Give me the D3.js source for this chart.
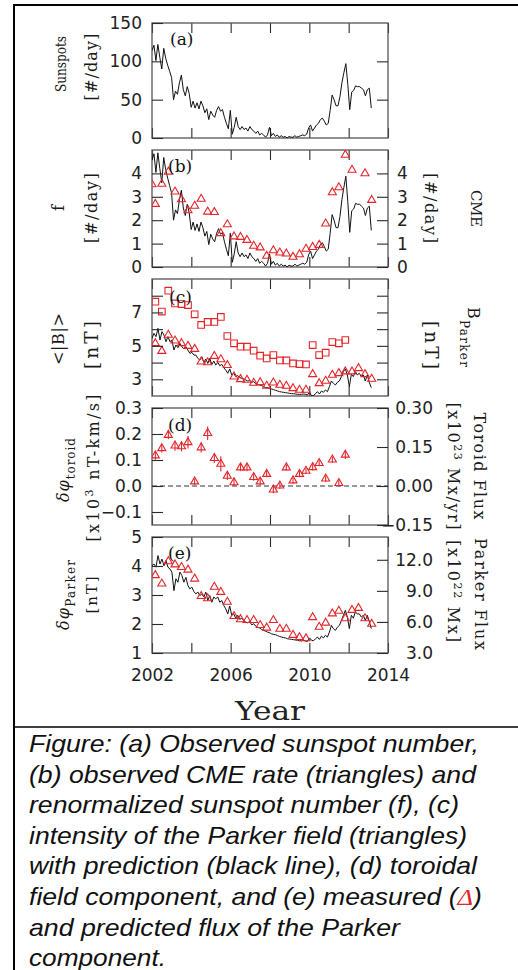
<!DOCTYPE html>
<html>
<head>
<meta charset="utf-8">
<script src="https://cdn.jsdelivr.net/npm/d3@7"></script>
<style>
  body { margin: 0; background: #fff; }
  svg { display: block; }
</style>
</head>
<body>
<div id="chart"></div>
<script>
// ---- data ----

// monthly-ish sunspot number, 2002.0 .. ~2013.15
const sunspots = [
  114,121,101,122,105,90,117,104,95,87,
  79,50,61,57,72,82,63,55,67,58,
  40,48,39,46,38,48,42,33,38,24,
  35,30,27,36,41,35,37,27,19,12,
  36,5,14,27,15,11,15,11,13,9,
  15,11,9,6,9,4,6,4,1,4,
  14,3,6,2,4,1,3,1,2,0,
  2,1,1,3,1,2,3,4,3,5,
  13,17,9,13,17,19,24,26,22,17,
  19,36,56,50,42,42,54,72,85,97,
  70,37,60,62,68,67,67,65,63,55,
  63,65,39
];

// predicted Parker field intensity (black line, panel c)
const bPredicted = [
  5.45,5.75,5.55,6.05,5.35,5.85,5.65,5.25,5.55,5.25,
  5.35,4.75,5.05,4.89,5.15,4.95,4.81,4.95,4.75,4.55,
  4.61,4.45,4.45,4.25,4.15,4.35,4.01,4.21,3.95,4.25,
  3.89,4.09,3.85,4.01,3.81,3.89,3.69,3.55,3.36,3.62,
  3.26,3.36,3.16,3.22,3.10,3.06,3.02,2.96,2.90,2.92,
  2.82,2.86,2.74,2.70,2.66,2.62,2.56,2.50,2.50,2.46,
  2.42,2.38,2.34,2.30,2.26,2.24,2.22,2.20,2.18,2.16,
  2.14,2.14,2.12,2.10,2.10,2.10,2.12,2.10,2.06,2.22,
  2.02,2.02,2.14,2.26,2.12,2.30,2.22,2.36,2.26,2.56,
  2.90,2.76,2.66,2.82,2.90,3.16,3.46,3.62,3.26,2.56,
  3.30,3.16,3.46,3.26,3.36,3.16,3.26,2.90,3.26,2.82,2.50
];

// predicted Parker flux (black line, panel e)
const fluxPredicted = [
  4.01,4.07,3.96,4.36,4.07,4.24,4.01,4.19,3.96,3.90,
  3.79,3.15,3.56,3.44,3.79,3.67,3.44,3.61,3.33,3.21,
  3.27,3.12,3.04,3.10,2.98,3.04,2.93,3.10,2.81,2.98,
  2.75,2.93,2.87,2.93,2.75,2.81,2.64,2.52,2.35,2.62,
  2.30,2.35,2.20,2.30,2.16,2.20,2.12,2.07,2.04,2.09,
  1.97,2.01,1.93,1.89,1.86,1.81,1.78,1.75,1.72,1.70,
  1.66,1.64,1.63,1.60,1.57,1.55,1.53,1.52,1.49,1.48,
  1.47,1.46,1.45,1.44,1.42,1.42,1.44,1.41,1.40,1.52,
  1.44,1.42,1.49,1.55,1.47,1.58,1.52,1.61,1.55,1.72,
  1.95,1.84,1.78,1.89,1.95,2.12,2.30,2.47,2.24,1.84,
  2.30,2.20,2.41,2.35,2.35,2.24,2.30,2.12,2.30,2.09,1.84
];

const lineStart = 2002.0, lineEnd = 2013.15;

// 4-month bins
const binYears = [
  2002.17,2002.5,2002.83,2003.17,2003.5,2003.83,2004.17,2004.5,2004.83,
  2005.17,2005.5,2005.83,2006.17,2006.5,2006.83,2007.17,2007.5,2007.83,
  2008.17,2008.5,2008.83,2009.17,2009.5,2009.83,2010.17,2010.5,2010.83,
  2011.17,2011.5,2011.83,2012.17,2012.5,2012.83,2013.17
];

const cmeYears = [
  2002.0,2002.17,2002.5,2002.83,2003.17,2003.5,2003.83,2004.17,2004.5,2004.83,
  2005.17,2005.5,2005.83,2006.17,2006.5,2006.83,2007.17,2007.5,2007.83,
  2008.17,2008.5,2008.83,2009.17,2009.5,2009.83,2010.17,2010.5,2010.83,
  2011.17,2011.5,2011.83,2012.17,2012.83,2013.17
];
const cmeRate = [
  3.53,2.69,3.55,4.07,3.22,2.89,2.42,2.61,2.91,2.36,2.34,1.44,1.82,1.30,1.28,1.15,
  0.90,0.83,0.47,0.71,0.61,0.57,0.43,0.54,0.77,0.85,0.94,1.85,3.19,3.40,4.79,4.15,4.0,2.86
];

const bMeasured = [ // squares, <|B|>
  7.64,7.05,8.30,7.54,7.50,7.44,6.89,6.25,6.43,6.43,6.73,5.59,5.15,4.95,4.95,
  4.71,4.41,4.25,4.45,4.13,4.13,3.95,3.91,3.89,5.05,4.45,4.59,5.23,5.15,5.35
];
const bParker = [ // triangles
  5.15,4.69,5.65,5.31,5.15,4.99,4.81,4.05,4.01,4.39,4.19,3.84,3.16,3.0,2.96,2.78,2.82,
  2.60,2.80,2.66,2.60,2.46,2.36,2.36,3.30,2.76,2.90,3.26,3.36,3.46,3.46,3.66,3.30,3.02
];

const toroid = [
  0.117,0.145,0.196,0.155,0.152,0.168,0.017,0.148,0.203,0.107,0.085,0.039,0.014,0.071,0.071,
  0.034,0.017,0.046,-0.014,0.001,0.071,0.021,0.046,0.058,0.072,0.088,0.028,0.101,0.011,0.12
];
const toroidErr = [
  0.012,0.012,0.012,0.015,0.015,0.02,0.008,0.015,0.022,0.015,0.025,0.012,0.01,0.01,0.01,
  0.01,0.01,0.008,0.01,0.008,0.008,0.008,0.008,0.008,0.008,0.008,0.008,0.008,0.008,0.012
];

const parkerFlux = [
  3.68,3.39,4.16,4.05,3.96,3.87,3.56,2.96,2.88,3.28,3.10,2.76,2.27,2.16,2.13,2.13,1.96,
  1.87,2.13,1.83,1.83,1.62,1.54,1.50,2.23,1.90,2.04,2.36,2.45,2.19,2.48,2.55,2.19,2.00
];

const xTickVals = [2002, 2004, 2006, 2008, 2010, 2012, 2014];
const xLabelVals = [2002, 2006, 2010, 2014];

const captionLines = [
  "Figure: (a) Observed sunspot number,",
  "(b) observed CME rate (triangles) and",
  "renormalized sunspot number (f), (c)",
  "intensity of the Parker field (triangles)",
  "with prediction (black line), (d) toroidal",
  "field component, and (e) measured (",
  "and predicted flux of the Parker",
  "component."
];

// ---- drawing ----
const RED = "#e3262b";
const W = 518, H = 970;
const L = 152, R = 388;

const svg = d3.select("#chart").append("svg")
  .attr("width", W).attr("height", H);

const x = d3.scaleLinear().domain([2002, 2014]).range([L, R]);

function lineYears(n) {
  return d3.range(n).map(i => lineStart + i * (lineEnd - lineStart) / (n - 1));
}

function styleAxis(g) {
  g.select(".domain").remove();
  g.selectAll(".tick line").attr("stroke", "#2a2a2a").attr("stroke-width", 1.1);
  g.selectAll("text")
    .attr("fill", "#222")
    .style("font-family", "DejaVu Sans")
    .style("font-size", "17px");
}

function panel(id, top, bot) {
  svg.append("clipPath").attr("id", "clip-" + id)
    .append("rect").attr("x", L).attr("y", top).attr("width", R - L).attr("height", bot - top);
  const g = svg.append("g");
  g.append("g").attr("transform", `translate(0,${bot})`)
    .call(d3.axisBottom(x).tickValues(xTickVals).tickSize(-10).tickFormat(""))
    .call(styleAxis);
  g.append("g").attr("transform", `translate(0,${top})`)
    .call(d3.axisTop(x).tickValues(xTickVals).tickSize(-10).tickFormat(""))
    .call(styleAxis);
  g.append("rect").attr("x", L).attr("y", top).attr("width", R - L).attr("height", bot - top)
    .attr("fill", "none").attr("stroke", "#555").attr("stroke-width", 1.3);
  const marks = svg.append("g").attr("clip-path", `url(#clip-${id})`);
  return marks;
}

function leftAxis(y, vals, fmt) {
  svg.append("g").attr("transform", `translate(${L},0)`)
    .call(d3.axisLeft(y).tickValues(vals).tickSize(-11).tickPadding(10).tickFormat(fmt))
    .call(styleAxis);
}

function rightAxis(y, vals, fmt, alignEnd) {
  const g = svg.append("g").attr("transform", `translate(${R},0)`)
    .call(d3.axisRight(y).tickValues(vals).tickSize(-11).tickPadding(9).tickFormat(fmt))
    .call(styleAxis);
  if (alignEnd) g.selectAll("text").attr("text-anchor", "end").attr("x", 45);
}

const blackLine = (y) => d3.line().x(d => x(d[0])).y(d => y(d[1]));
const tri = d3.symbol().type(d3.symbolTriangle).size(28);
const sq = d3.symbol().type(d3.symbolSquare).size(44);

function drawLine(marks, y, values) {
  const yrs = lineYears(values.length);
  marks.append("path")
    .datum(values.map((v, i) => [yrs[i], v]))
    .attr("d", blackLine(y))
    .attr("fill", "none").attr("stroke", "#111").attr("stroke-width", 1);
}

function drawSymbols(marks, y, years, values, sym) {
  marks.selectAll(null).data(values).enter().append("path")
    .attr("d", sym)
    .attr("transform", (d, i) => `translate(${x(years[i])},${y(d)})`)
    .attr("fill", "none").attr("stroke", RED).attr("stroke-width", 1.1);
}

function panelTag(txt, px, py) {
  svg.append("text").attr("x", px).attr("y", py).text(txt)
    .style("font-family", "DejaVu Serif").style("font-size", "17px").attr("fill", "#111");
}

// vertical axis titles: parts = [{t, dy, s}]
function vText(xb, yc, rot, parts, size, len, adjust) {
  const t = svg.append("text")
    .attr("transform", `translate(${xb},${yc}) rotate(${rot})`)
    .attr("text-anchor", "middle")
    .attr("fill", "#1a1a1a")
    .style("font-family", "DejaVu Serif")
    .style("font-size", size + "px");
  parts.forEach(p => {
    const s = t.append("tspan").text(p.t);
    if (p.dy) s.attr("dy", p.dy);
    if (p.s) s.style("font-size", p.s + "px");
    if (p.i) s.style("font-style", "italic");
  });
  if (len) t.attr("textLength", len).attr("lengthAdjust", adjust || "spacing");
}

// (a) sunspots
{
  const top = 23, bot = 138;
  const y = d3.scaleLinear().domain([0, 150]).range([bot, top]);
  const m = panel("a", top, bot);
  leftAxis(y, [0, 50, 100, 150], d3.format("d"));
  svg.append("g").attr("transform", `translate(${R},0)`)
    .call(d3.axisRight(y).tickValues([50, 100]).tickSize(-11).tickFormat(""))
    .call(styleAxis);
  drawLine(m, y, sunspots);
  panelTag("(a)", 170, 45);
  vText(66, 64, -90, [{t: "Sunspots"}], 15.5, 56, "spacingAndGlyphs");
  vText(97, 67, -90, [{t: "[#/day]"}], 16, 67);
}

// (b) CME rate and renormalized sunspots (f)
{
  const top = 150, bot = 267;
  const y = d3.scaleLinear().domain([0, 5]).range([bot, top]);
  // f axis is the sunspot number renormalized by 25
  const ySun = d3.scaleLinear().domain([0, 125]).range([bot, top]);
  const m = panel("b", top, bot);
  leftAxis(y, [0, 1, 2, 3, 4], d3.format("d"));
  rightAxis(y, [0, 1, 2, 3, 4], d3.format("d"), false);
  drawLine(m, ySun, sunspots);
  drawSymbols(m, y, cmeYears, cmeRate, tri);
  panelTag("(b)", 168, 172);
  vText(64, 208, -90, [{t: "f"}], 16);
  vText(97, 208, -90, [{t: "[#/day]"}], 16, 70);
  vText(425, 208, 90, [{t: "[#/day]"}], 16, 70);
  vText(471, 208.5, 90, [{t: "CME"}], 15, 37);
}

// (c) field intensity
{
  const top = 279, bot = 396;
  const y = d3.scaleLinear().domain([2, 9]).range([bot, top]);
  const m = panel("c", top, bot);
  leftAxis(y, [3, 4, 5, 6, 7, 8], d => (d % 2 ? d : ""));
  rightAxis(y, [3, 4, 5, 6, 7, 8], () => "", false);
  drawLine(m, y, bPredicted);
  drawSymbols(m, y, binYears, bMeasured, sq);
  drawSymbols(m, y, binYears, bParker, tri);
  panelTag("(c)", 169, 303);
  vText(64, 339, -90, [{t: "<|B|>"}], 16, 52);
  vText(98, 345, -90, [{t: "[nT]"}], 18.5, 48);
  vText(425, 345, 90, [{t: "[nT]"}], 18.5, 48);
  vText(468, 337, 90, [{t: "B"}, {t: "Parker", dy: 8, s: 12}], 16, 60);
}

// (d) toroidal component
{
  const top = 408, bot = 525;
  const y = d3.scaleLinear().domain([-0.15, 0.3]).range([bot, top]);
  const m = panel("d", top, bot);
  leftAxis(y, [-0.1, 0, 0.1, 0.2, 0.3], d3.format(".1f"));
  rightAxis(y, [-0.15, 0, 0.15, 0.3], d3.format(".2f"), true);
  m.append("line").attr("x1", L).attr("x2", R).attr("y1", y(0)).attr("y2", y(0))
    .attr("stroke", "#333").attr("stroke-width", 1).attr("stroke-dasharray", "5,3");
  m.selectAll(null).data(toroid).enter().append("line")
    .attr("x1", (d, i) => x(binYears[i])).attr("x2", (d, i) => x(binYears[i]))
    .attr("y1", (d, i) => y(d - toroidErr[i] - 0.004)).attr("y2", (d, i) => y(d + toroidErr[i] + 0.004))
    .attr("stroke", RED).attr("stroke-width", 1.1);
  drawSymbols(m, y, binYears, toroid, tri);
  panelTag("(d)", 168, 431);
  vText(69, 470, -90, [{t: "δφ", i: true}, {t: "toroid", dy: 6, s: 12}], 16, 64);
  vText(99, 468, -90, [{t: "[x10"}, {t: "3", dy: -6, s: 11}, {t: " nT-km/s]", dy: 6}], 16, 147);
  vText(448, 466, 90, [{t: "[x10"}, {t: "23", dy: -6, s: 11}, {t: " Mx/yr]", dy: 6}], 16, 127);
  vText(474, 466, 90, [{t: "Toroid Flux"}], 16, 107);
}

// (e) Parker flux
{
  const top = 537, bot = 653;
  const y = d3.scaleLinear().domain([1, 5]).range([bot, top]);
  const y2 = d3.scaleLinear().domain([3, 14.2]).range([bot, top]);
  const m = panel("e", top, bot);
  leftAxis(y, [1, 2, 3, 4, 5], d3.format("d"));
  rightAxis(y2, [3, 6, 9, 12], d3.format(".1f"), true);
  drawLine(m, y, fluxPredicted);
  drawSymbols(m, y, binYears, parkerFlux, tri);
  panelTag("(e)", 168, 559);
  vText(69, 595, -90, [{t: "δφ", i: true}, {t: "Parker", dy: 6, s: 12}], 16, 70);
  vText(97, 595, -90, [{t: "[nT]"}], 15, 37);
  vText(448, 591, 90, [{t: "[x10"}, {t: "22", dy: -6, s: 11}, {t: " Mx]", dy: 6}], 16, 102);
  vText(475, 594, 90, [{t: "Parker Flux"}], 16, 112);

  svg.append("g").attr("transform", `translate(0,${bot})`)
    .call(d3.axisBottom(x).tickValues(xLabelVals).tickSize(0).tickPadding(16).tickFormat(d3.format("d")))
    .call(styleAxis);
}

svg.append("text").attr("x", 270).attr("y", 720).attr("text-anchor", "middle")
  .attr("textLength", 70).attr("lengthAdjust", "spacingAndGlyphs")
  .style("font-family", "DejaVu Serif").style("font-size", "26px").attr("fill", "#222")
  .text("Year");

// frame lines
svg.append("line").attr("x1", 14).attr("x2", 14).attr("y1", 4).attr("y2", H).attr("stroke", "#000").attr("stroke-width", 2);
svg.append("line").attr("x1", 13).attr("x2", W).attr("y1", 5).attr("y2", 5).attr("stroke", "#000").attr("stroke-width", 2);
svg.append("line").attr("x1", 14).attr("x2", W).attr("y1", 727).attr("y2", 727).attr("stroke", "#000").attr("stroke-width", 1.5);

// caption
const capWidths = [450, 447, 430, 438, 448, 453, 371, 137];
const cap = svg.append("g")
  .style("font-family", "'Liberation Sans', Arial, sans-serif")
  .style("font-style", "italic")
  .style("font-size", "24px")
  .attr("fill", "#111");
captionLines.forEach((line, i) => {
  const t = cap.append("text").attr("x", 29).attr("y", 752 + i * 30.6)
    .attr("textLength", capWidths[i]).attr("lengthAdjust", "spacingAndGlyphs");
  t.append("tspan").text(line);
  if (i === 5) {
    t.append("tspan").text("Δ").attr("fill", RED).style("font-family", "'Liberation Serif', serif");
    t.append("tspan").text(")");
  }
});
</script>
</body>
</html>
